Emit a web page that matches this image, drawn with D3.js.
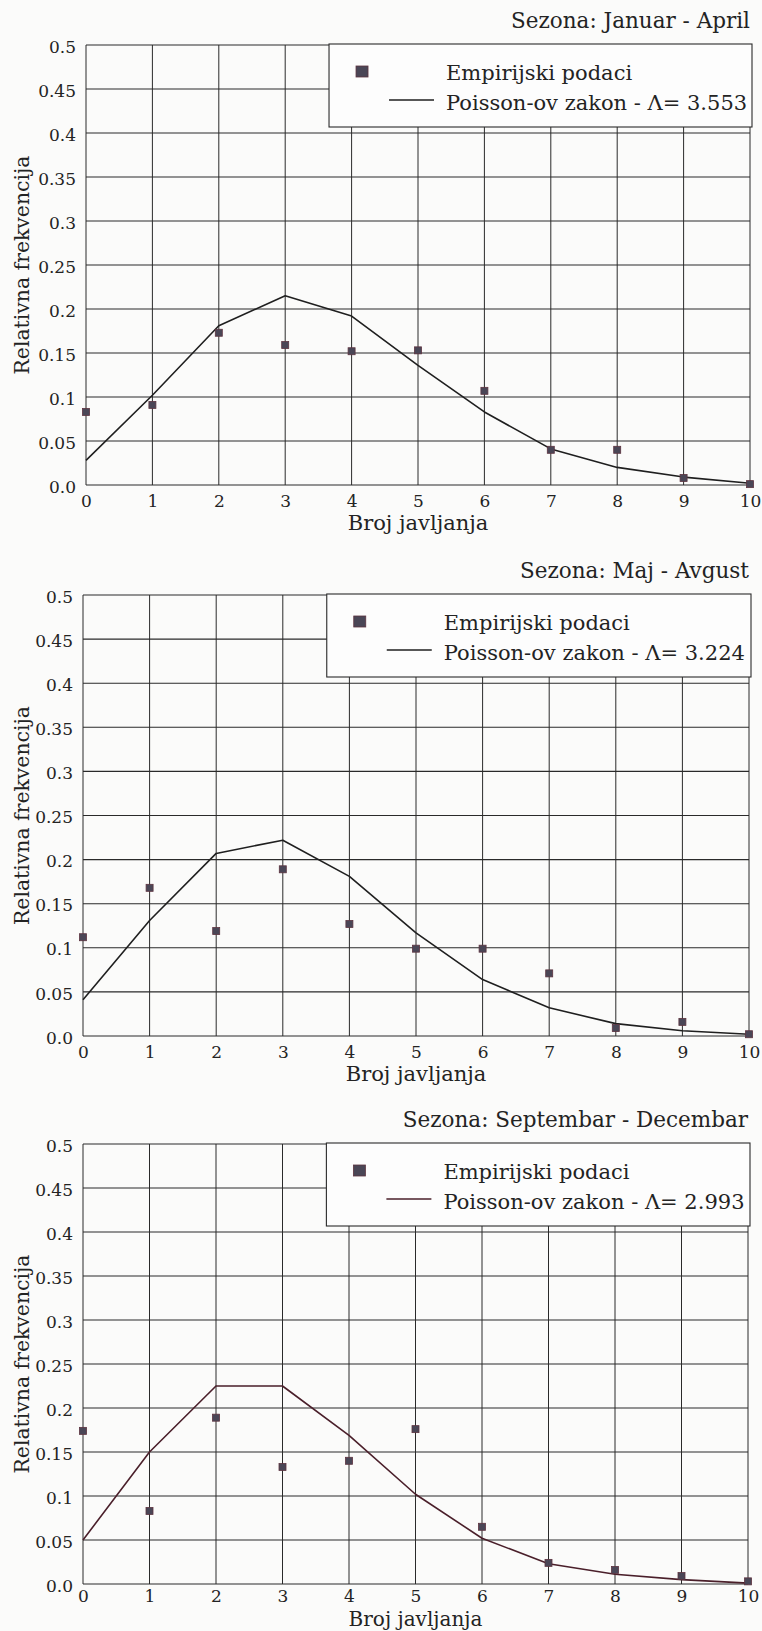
<!DOCTYPE html>
<html>
<head>
<meta charset="utf-8">
<script src="https://cdn.jsdelivr.net/npm/d3@7"></script>
<style>
  body { margin: 0; background: #fbfbfa; }
  svg text { font-family: "DejaVu Serif", serif; fill: #232323; }
</style>
</head>
<body>
<svg id="my_dataviz" width="762" height="1631"></svg>
<script>
// data
var kValues = [0, 1, 2, 3, 4, 5, 6, 7, 8, 9, 10];
var yTicks = [0, 0.05, 0.1, 0.15, 0.2, 0.25, 0.3, 0.35, 0.4, 0.45, 0.5];
var yTickLabels = ["0.0", "0.05", "0.1", "0.15", "0.2", "0.25", "0.3", "0.35", "0.4", "0.45", "0.5"];
var seasons = ["Sezona: Januar - April", "Sezona: Maj - Avgust", "Sezona: Septembar - Decembar"];
var lambdas = ["3.553", "3.224", "2.993"];

var empJanApr  = [0.083, 0.091, 0.173, 0.159, 0.152, 0.153, 0.107, 0.040, 0.040, 0.008, 0.001];
var poisJanApr = [0.028, 0.102, 0.181, 0.215, 0.192, 0.136, 0.083, 0.041, 0.020, 0.009, 0.002];
var empMajAvg  = [0.112, 0.168, 0.119, 0.189, 0.127, 0.099, 0.099, 0.071, 0.009, 0.016, 0.002];
var poisMajAvg = [0.041, 0.131, 0.207, 0.222, 0.181, 0.117, 0.064, 0.032, 0.014, 0.006, 0.002];
var empSepDec  = [0.174, 0.083, 0.189, 0.133, 0.140, 0.176, 0.065, 0.024, 0.016, 0.009, 0.003];
var poisSepDec = [0.050, 0.150, 0.225, 0.225, 0.169, 0.102, 0.052, 0.023, 0.011, 0.005, 0.001];

var xLabel = "Broj javljanja";
var yLabel = "Relativna frekvencija";
var legendEmp = "Empirijski podaci";

// where each panel sits on the page
var panels = [
  { left: 86, right: 750, top: 45,   bottom: 485,  tickPad: 9.5, labelGap: 45,  labelSize: 21, emp: empJanApr, pois: poisJanApr, lineColor: "#1f1f1f" },
  { left: 83, right: 749, top: 595,  bottom: 1036, tickPad: 9.5, labelGap: 45,  labelSize: 21, emp: empMajAvg, pois: poisMajAvg, lineColor: "#1f1f1f" },
  { left: 83, right: 748, top: 1144, bottom: 1584, tickPad: 6,   labelGap: 41.5, labelSize: 20, emp: empSepDec, pois: poisSepDec, lineColor: "#4a1f2a" }
];

var svg = d3.select("#my_dataviz");
var gridColor = "#2a2a2a";

function drawPanel(p, i) {
  var g = svg.append("g");
  var x = d3.scaleLinear().domain([0, 10]).range([p.left, p.right]);
  var y = d3.scaleLinear().domain([0, 0.5]).range([p.bottom, p.top]);

  // grid
  g.selectAll(".vgrid").data(kValues).enter().append("line")
    .attr("x1", d => x(d)).attr("x2", d => x(d))
    .attr("y1", p.top).attr("y2", p.bottom)
    .attr("stroke", gridColor).attr("stroke-width", 1);
  g.selectAll(".hgrid").data(yTicks).enter().append("line")
    .attr("x1", p.left).attr("x2", p.right)
    .attr("y1", d => y(d)).attr("y2", d => y(d))
    .attr("stroke", gridColor).attr("stroke-width", 1.1);

  // tick labels through the axes
  var xAxis = g.append("g").attr("transform", "translate(0," + p.bottom + ")")
    .call(d3.axisBottom(x).tickValues(kValues).tickSize(0).tickPadding(p.tickPad).tickFormat(d3.format("d")));
  xAxis.select(".domain").remove();
  xAxis.selectAll("text").style("font-size", "17px").attr("fill", "#232323");

  var yAxis = g.append("g").attr("transform", "translate(" + p.left + ",0)")
    .call(d3.axisLeft(y).tickValues(yTicks).tickSize(0).tickPadding(10).tickFormat((d, j) => yTickLabels[j]));
  yAxis.select(".domain").remove();
  yAxis.selectAll("text").style("font-size", "17px").attr("dy", "0.42em").attr("fill", "#232323");

  // title
  g.append("text").attr("x", p.right).attr("y", p.top - 17)
    .attr("text-anchor", "end").style("font-size", "21.5px").text(seasons[i]);

  // axis titles
  g.append("text").attr("x", (p.left + p.right) / 2).attr("y", p.bottom + p.labelGap)
    .attr("text-anchor", "middle").style("font-size", p.labelSize + "px").text(xLabel);
  g.append("text")
    .attr("transform", "translate(29," + (p.top + p.bottom) / 2 + ") rotate(-90)")
    .attr("text-anchor", "middle").style("font-size", "20.4px").text(yLabel);

  // legend box
  var lx = x(3.66), ly = p.top - 1;
  g.append("rect").attr("x", lx).attr("y", ly)
    .attr("width", p.right + 2 - lx).attr("height", 83)
    .attr("fill", "#fdfdfd").attr("stroke", gridColor).attr("stroke-width", 1.1);
  g.append("rect").attr("x", lx + 27).attr("y", ly + 22).attr("width", 12).attr("height", 11)
    .attr("fill", "#4a4656").attr("stroke", "#5d3440").attr("stroke-width", 0.8);
  g.append("line").attr("x1", lx + 60).attr("x2", lx + 105)
    .attr("y1", ly + 56).attr("y2", ly + 56)
    .attr("stroke", p.lineColor).attr("stroke-width", 1.6);
  g.append("text").attr("x", lx + 117).attr("y", ly + 36).style("font-size", "21px").text(legendEmp);
  g.append("text").attr("x", lx + 117).attr("y", ly + 66).style("font-size", "21px")
    .text("Poisson-ov zakon - \u039B= " + lambdas[i]);

  // Poisson curve
  var line = d3.line().x((d, j) => x(kValues[j])).y(d => y(d));
  g.append("path").datum(p.pois)
    .attr("d", line).attr("fill", "none")
    .attr("stroke", p.lineColor).attr("stroke-width", 1.6).attr("stroke-linejoin", "round");

  // empirical points
  g.selectAll(".pt").data(p.emp).enter().append("rect")
    .attr("x", (d, j) => x(kValues[j]) - 3.5).attr("y", d => y(d) - 3.5)
    .attr("width", 7).attr("height", 7)
    .attr("fill", "#4a4656").attr("stroke", "#5d3440").attr("stroke-width", 0.8);
}

panels.forEach(drawPanel);
</script>
</body>
</html>
